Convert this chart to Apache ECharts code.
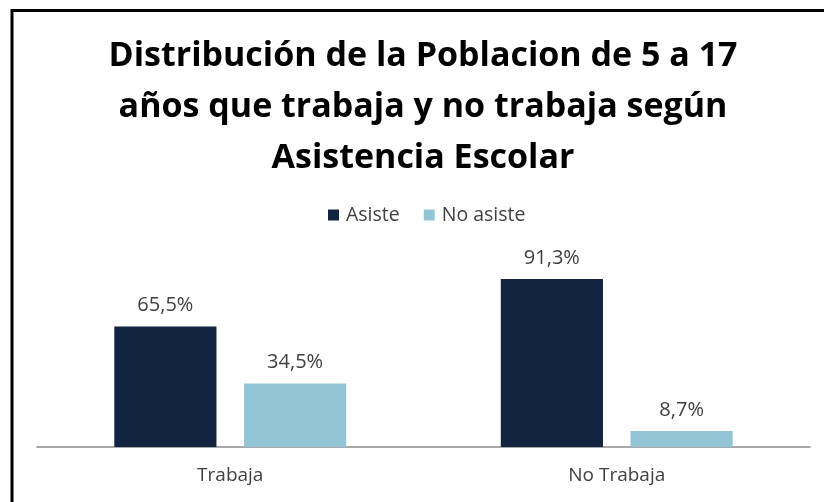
<!DOCTYPE html>
<html>
<head>
<meta charset="utf-8">
<script src="https://cdn.jsdelivr.net/npm/echarts@6/dist/echarts.min.js"></script>
<style>
  html, body { margin: 0; padding: 0; background: #fff; }
  #chart { width: 824px; height: 502px; }
</style>
</head>
<body>
<div id="chart"></div>
<script>
var categories = ["Trabaja", "No Trabaja"];
var seriesNames = ["Asiste", "No asiste"];
var asiste = [65.5, 91.3];
var noAsiste = [34.5, 8.7];

var chart = echarts.init(document.getElementById("chart"));

function pct(p) {
  return p.value.toFixed(1).replace(".", ",") + "%";
}

var labelStyle = {
  show: true,
  position: "top",
  distance: 11,
  formatter: pct,
  fontFamily: "Open Sans",
  fontSize: 20,
  color: "#404040"
};

var option = {
  animation: false,
  backgroundColor: "#fff",
  title: {
    text: "Distribución de la Poblacion de 5 a 17\naños que trabaja y no trabaja según\nAsistencia Escolar",
    left: 423,
    textAlign: "center",
    top: 31,
    padding: 0,
    textStyle: {
      fontFamily: "Open Sans",
      fontWeight: "bold",
      fontSize: 34,
      lineHeight: 51,
      color: "#000"
    }
  },
  legend: {
    data: seriesNames,
    top: 205,
    left: 328,
    padding: 0,
    itemWidth: 11,
    itemHeight: 11,
    itemGap: 24,
    icon: "rect",
    textStyle: {
      fontFamily: "Open Sans",
      fontSize: 19.5,
      color: "#404040",
      padding: [0, 0, 0, 2]
    }
  },
  grid: {
    left: 37,
    right: 14,
    top: 263,
    bottom: 55
  },
  xAxis: {
    type: "category",
    data: categories,
    axisTick: { show: false },
    axisLine: { lineStyle: { color: "#8c8c8c", width: 1.5 } },
    axisLabel: {
      margin: 19,
      fontFamily: "Open Sans",
      fontSize: 19,
      color: "#404040"
    }
  },
  yAxis: {
    type: "value",
    min: 0,
    max: 100,
    show: false
  },
  graphic: [{
    type: "rect",
    shape: { x: 12, y: 10.5, width: 840, height: 520 },
    style: { fill: null, stroke: "#000", lineWidth: 3 },
    z: 100
  }],
  series: [
    {
      name: seriesNames[0],
      type: "bar",
      data: asiste,
      barCategoryGap: "40%",
      barGap: "27%",
      itemStyle: { color: "#122440" },
      label: labelStyle
    },
    {
      name: seriesNames[1],
      type: "bar",
      data: noAsiste,
      itemStyle: { color: "#93c4d6" },
      label: labelStyle
    }
  ]
};

chart.setOption(option);
</script>
</body>
</html>
